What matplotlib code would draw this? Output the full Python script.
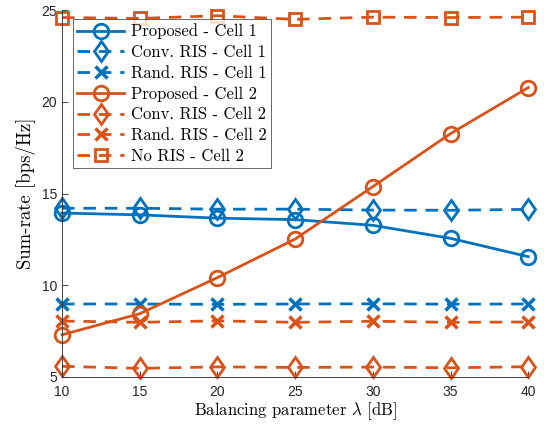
import matplotlib
matplotlib.use("Agg")
import matplotlib.pyplot as plt
from matplotlib.markers import MarkerStyle
from matplotlib.transforms import Affine2D

plt.rcParams['mathtext.fontset'] = 'cm'

lam = [10, 15, 20, 25, 30, 35, 40]
prop_c1 = [13.94, 13.84, 13.66, 13.58, 13.27, 12.56, 11.56]
conv_c1 = [14.2, 14.2, 14.15, 14.15, 14.1, 14.09, 14.14]
rand_c1 = [8.98, 8.98, 8.96, 8.98, 8.99, 8.97, 8.98]
prop_c2 = [7.3, 8.45, 10.42, 12.52, 15.38, 18.27, 20.78]
conv_c2 = [5.58, 5.47, 5.55, 5.52, 5.54, 5.5, 5.56]
rand_c2 = [8.05, 7.98, 8.06, 7.98, 8.04, 7.98, 8.0]
nors_c2 = [24.6, 24.55, 24.7, 24.5, 24.62, 24.6, 24.62]

labels = ['Proposed - Cell 1', 'Conv. RIS - Cell 1', 'Rand. RIS - Cell 1',
          'Proposed - Cell 2', 'Conv. RIS - Cell 2', 'Rand. RIS - Cell 2',
          'No RIS - Cell 2']
xticks = [10, 15, 20, 25, 30, 35, 40]
yticks = [5, 10, 15, 20, 25]

blue = '#0072BD'
orange = '#D95319'

fig = plt.figure(figsize=(5.44, 4.25), dpi=100)
ax = fig.add_axes([0.114, 0.113, 0.857, 0.863])

lw = 2.0
dash = (0, (4.5, 3.2))
series = [
    (prop_c1, blue, 'o', '-'),
    (conv_c1, blue, 'D', dash),
    (rand_c1, blue, 'x', dash),
    (prop_c2, orange, 'o', '-'),
    (conv_c2, orange, 'D', dash),
    (rand_c2, orange, 'x', dash),
    (nors_c2, orange, 's', dash),
]
for (vals, c, m, ls), lab in zip(series, labels):
    kw = dict(markersize=10.5, markeredgewidth=2.0, markerfacecolor='none')
    marker = m
    if m == 'D':
        kw['markersize'] = 9
        marker = MarkerStyle('D', transform=Affine2D().scale(0.8, 1.15))
    if m == 's':
        kw['markersize'] = 8.5
    if m == 'x':
        kw['markersize'] = 8
        kw['markeredgewidth'] = 2.5
    ax.plot(lam, vals, color=c, marker=marker, linestyle=ls, linewidth=lw,
            label=lab, clip_on=False, **kw)

ax.set_xlim(10, 40)
ax.set_ylim(5, 25)
ax.set_xticks(xticks)
ax.set_yticks(yticks)
ax.tick_params(direction='in', length=4, labelsize=10, colors='#262626',
               width=0.6)
ax.tick_params(axis='x', pad=6)
for lbl in ax.get_xticklabels() + ax.get_yticklabels():
    lbl.set_fontfamily('Liberation Sans')
ax.spines['top'].set_visible(False)
ax.spines['right'].set_visible(False)
for s in ['left', 'bottom']:
    ax.spines[s].set_color('#262626')
    ax.spines[s].set_linewidth(0.6)

ax.set_xlabel(r'Balancing parameter $\lambda$ [dB]', family='cmr10',
              fontsize=12, labelpad=1)
ax.set_ylabel('Sum-rate [bps/Hz]', family='cmr10', fontsize=13.5, labelpad=4)

leg = ax.legend(loc='upper left', bbox_to_anchor=(0.024, 0.975),
                prop={'family': 'cmr10', 'size': 12}, handlelength=2.8,
                borderaxespad=0, frameon=True, fancybox=False,
                edgecolor='#262626', labelspacing=0.32, borderpad=0.25,
                handletextpad=0.4)
leg.get_frame().set_linewidth(0.6)

fig.savefig('out.png', dpi=100)
